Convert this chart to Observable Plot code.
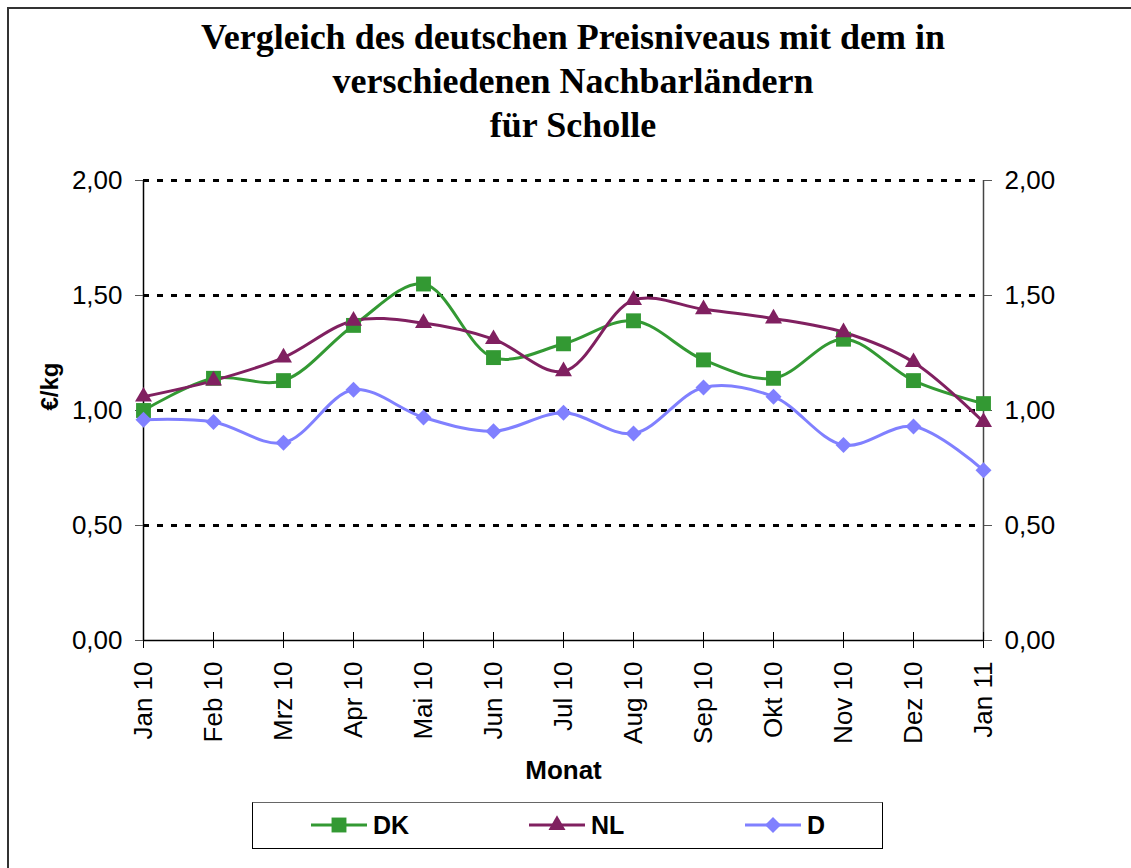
<!DOCTYPE html>
<html>
<head>
<meta charset="utf-8">
<script src="https://cdn.jsdelivr.net/npm/d3@7"></script>
<script src="https://cdn.jsdelivr.net/npm/@observablehq/plot@0.6"></script>
<style>
  html, body { margin: 0; padding: 0; background: #fff; overflow: hidden; }
  #wrap { position: relative; width: 1131px; height: 868px; overflow: hidden; font-family: "Liberation Sans", Arial, sans-serif; }
  #frame { position: absolute; left: 7px; top: 7px; width: 1200px; height: 1000px; border: 2px solid #333; box-sizing: border-box; }
  #title { position: absolute; left: 0; top: 15px; width: 1146px; text-align: center; font-family: "Liberation Serif", "Times New Roman", serif; font-weight: bold; font-size: 36px; line-height: 44px; color: #000; }
  #chart { position: absolute; left: 0; top: 0; }
  #legend { position: absolute; left: 252px; top: 802px; width: 631px; height: 47px; border: 1.5px solid #000; border-top-color: #666; box-sizing: border-box; background: #fff; }
  .item { position: absolute; top: 0; height: 44px; display: flex; align-items: center; font-weight: bold; font-size: 25px; color: #000; }
  .item svg { margin-right: 6px; }
</style>
</head>
<body>
<div id="wrap">
  <div id="frame"></div>
  <div id="chart"></div>
  <div id="title">Vergleich des deutschen Preisniveaus mit dem in<br>verschiedenen Nachbarländern<br>für Scholle</div>
  <div id="legend"></div>
</div>
<script>
const months = ["Jan 10","Feb 10","Mrz 10","Apr 10","Mai 10","Jun 10","Jul 10","Aug 10","Sep 10","Okt 10","Nov 10","Dez 10","Jan 11"];
const seriesNames = ["DK","NL","D"];
const dkValues = [1.00, 1.14, 1.13, 1.37, 1.55, 1.23, 1.29, 1.39, 1.22, 1.14, 1.31, 1.13, 1.03];
const nlValues = [1.06, 1.13, 1.23, 1.39, 1.38, 1.31, 1.17, 1.48, 1.44, 1.40, 1.34, 1.21, 0.95];
const dValues  = [0.96, 0.95, 0.86, 1.09, 0.97, 0.91, 0.99, 0.90, 1.10, 1.06, 0.85, 0.93, 0.74];
const yTicks = [0, 0.5, 1, 1.5, 2];
const seriesColors = ["#339933", "#802060", "#8080FF"];
const seriesSymbols = ["square", "triangle", "diamond2"];

const valuesBySeries = {DK: dkValues, NL: nlValues, D: dValues};
const data = seriesNames.flatMap(s => months.map((m, i) => ({series: s, month: m, value: valuesBySeries[s][i]})));
const fmt = d => d.toFixed(2).replace(".", ",");
const font = "'Liberation Sans', Arial, sans-serif";

const dotR = {DK: 8.4, NL: 6.3, D: 7.2};

const chart = Plot.plot({
  width: 1131,
  height: 868,
  marginLeft: 143,
  marginRight: 148,
  marginTop: 180,
  marginBottom: 228,
  style: {fontFamily: font, background: "transparent", overflow: "visible"},
  x: {type: "point", domain: months, padding: 0},
  y: {domain: [0, 2]},
  color: {domain: seriesNames, range: seriesColors},
  symbol: {domain: seriesNames, range: seriesSymbols},
  marks: [
    Plot.ruleY(yTicks.filter(d => d > 0), {stroke: "#000", strokeWidth: 3, strokeDasharray: "6,8"}),
    Plot.ruleX([months[months.length - 1]], {stroke: "#444", strokeWidth: 1.5}),
    Plot.ruleX([months[0]], {stroke: "#000", strokeWidth: 1.5}),
    Plot.ruleY([0], {stroke: "#000", strokeWidth: 1.5}),
    Plot.axisY({anchor: "left", ticks: yTicks, tickFormat: fmt, tickSize: 8, tickPadding: 13, fontSize: 26, label: null, stroke: "#555"}),
    Plot.axisY({anchor: "right", ticks: yTicks, tickFormat: fmt, tickSize: 8, tickPadding: 13, fontSize: 26, label: null, stroke: "#555"}),
    Plot.axisX({anchor: "bottom", tickSize: 16, dy: -8, tickFormat: () => "", label: null, stroke: "#000"}),
    Plot.axisX({anchor: "bottom", tickSize: 0, tickPadding: 21, tickRotate: -90, fontSize: 26, label: null}),
    Plot.text(["€/kg"], {frameAnchor: "left", dx: -93, rotate: -90, fontSize: 24, fontWeight: "bold", fill: "#000"}),
    Plot.text(["Monat"], {frameAnchor: "bottom", dy: 138, fontSize: 26, fontWeight: "bold", fill: "#000"}),
    ...seriesNames.map(s => Plot.line(data.filter(d => d.series === s), {x: "month", y: "value", stroke: "series", strokeWidth: 3, curve: "catmull-rom"})),
    ...seriesNames.map(s => Plot.dot(data.filter(d => d.series === s), {x: "month", y: "value", fill: "series", symbol: "series", r: dotR[s]}))
  ]
});
document.getElementById("chart").appendChild(chart);

// Legend
const legend = document.getElementById("legend");
const itemLeft = [58, 276, 492];
seriesNames.forEach((s, i) => {
  const item = document.createElement("div");
  item.className = "item";
  item.style.left = itemLeft[i] + "px";
  const w = 56, h = 24;
  const svg = d3.create("svg").attr("width", w).attr("height", h);
  svg.append("line").attr("x1", 0).attr("x2", w).attr("y1", h / 2).attr("y2", h / 2)
    .attr("stroke", seriesColors[i]).attr("stroke-width", 3);
  const symMap = {square: d3.symbolSquare, triangle: d3.symbolTriangle, diamond2: d3.symbolDiamond2};
  const r = dotR[s];
  svg.append("path").attr("transform", `translate(${w / 2},${h / 2})`)
    .attr("d", d3.symbol(symMap[seriesSymbols[i]], r * r * Math.PI)())
    .attr("fill", seriesColors[i]);
  item.appendChild(svg.node());
  const label = document.createElement("span");
  label.textContent = s;
  item.appendChild(label);
  legend.appendChild(item);
});
</script>
</body>
</html>
